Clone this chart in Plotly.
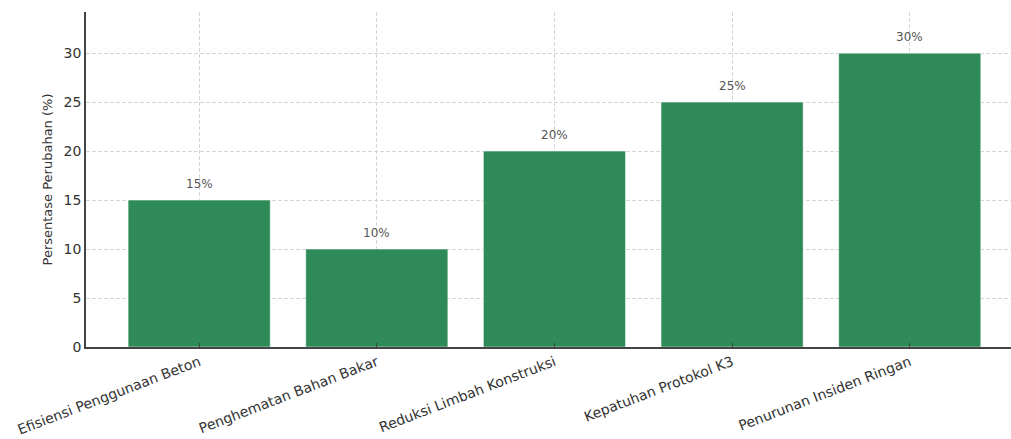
import plotly.graph_objects as go

categories = ["Efisiensi Penggunaan Beton", "Penghematan Bahan Bakar", "Reduksi Limbah Konstruksi",
              "Kepatuhan Protokol K3", "Penurunan Insiden Ringan"]
values = [15, 10, 20, 25, 30]
labels = [f"{v}%" for v in values]

fig = go.Figure()
fig.add_trace(go.Bar(
    x=list(range(len(categories))), y=values, width=0.8,
    marker=dict(color="#2e8b57", line=dict(color="rgba(255,255,255,0.5)", width=1)),
    hoverinfo="skip",
))
for i, (v, t) in enumerate(zip(values, labels)):
    fig.add_annotation(x=i, y=v, text=t, showarrow=False, yshift=16,
                       font=dict(size=12, color="#555555", family="DejaVu Sans"))

grid = dict(showgrid=True, gridcolor="#d6d6d6", griddash="4px,2px", gridwidth=0.8)

fig.update_layout(
    width=1011, height=439,
    margin=dict(l=86, r=0, t=12, b=92),
    plot_bgcolor="white", paper_bgcolor="white",
    font=dict(family="DejaVu Sans", color="#333333"),
    showlegend=False,
)
fig.update_xaxes(
    tickmode="array", tickvals=list(range(len(categories))), ticktext=categories,
    range=[-0.637, 4.57], tickangle=-21, tickfont=dict(size=14, color="#333333"),
    showline=True, linecolor="#444444", linewidth=1.5,
    ticks="inside", ticklen=4, tickcolor="#444444", layer="above traces",
    zeroline=False, **grid,
)
fig.update_yaxes(
    range=[0, 34.2], tickvals=[0, 5, 10, 15, 20, 25, 30],
    tickfont=dict(size=14, color="#333333"),
    title=dict(text="Persentase Perubahan (%)", font=dict(size=13, color="#333333"), standoff=8),
    showline=True, linecolor="#444444", linewidth=1.5,
    ticks="", layer="above traces", zeroline=False, **grid,
)

fig.write_html("out.html")
